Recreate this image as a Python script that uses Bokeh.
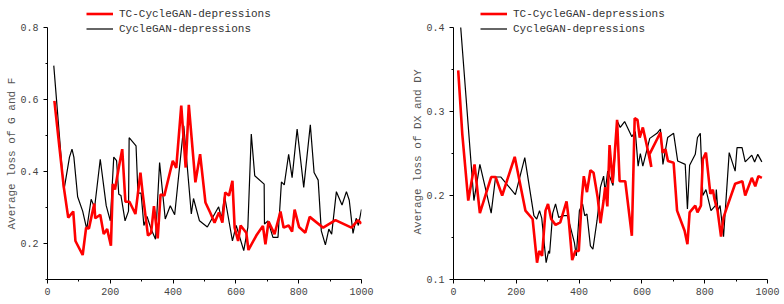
from bokeh.plotting import figure
from bokeh.layouts import row
from bokeh.models import FixedTicker, PrintfTickFormatter, Legend, LegendItem, Range1d
from bokeh.embed import file_html
from bokeh.resources import INLINE

# ---- Generator loss (G and F) ----
gf_tc_x = [22, 38, 52, 66, 82, 89, 112, 123, 132, 149, 152, 168, 179, 190, 202, 208, 215, 227, 238,
           248, 261, 280, 296, 303, 320, 330, 339, 351, 360, 372, 399, 410, 426, 440, 450, 471, 486,
           503, 518, 532, 546, 557, 566, 578, 589, 596, 607, 615, 633, 640, 665, 686, 694, 704, 723,
           742, 752, 768, 779, 787, 801, 821, 835, 878, 917, 968, 989, 1000]
gf_tc_y = [0.596, 0.467, 0.356, 0.272, 0.289, 0.207, 0.168, 0.244, 0.242, 0.311, 0.270, 0.280, 0.226,
           0.240, 0.194, 0.365, 0.350, 0.411, 0.462, 0.316, 0.316, 0.282, 0.397, 0.340, 0.222, 0.230,
           0.304, 0.214, 0.336, 0.333, 0.430, 0.410, 0.583, 0.411, 0.585, 0.370, 0.448, 0.314, 0.286,
           0.258, 0.286, 0.258, 0.342, 0.333, 0.374, 0.244, 0.207, 0.250, 0.230, 0.182, 0.222, 0.249,
           0.198, 0.261, 0.226, 0.289, 0.244, 0.250, 0.233, 0.294, 0.246, 0.230, 0.274, 0.244, 0.265,
           0.244, 0.265, 0.255]

gf_cg_x = [20, 52, 70, 78, 84, 96, 112, 125, 139, 150, 168, 187, 200, 211, 220, 227, 234, 247, 258,
           260, 282, 288, 298, 307, 317, 330, 344, 357, 375, 391, 405, 434, 458, 465, 484, 509, 545,
           554, 564, 589, 601, 625, 638, 649, 660, 690, 691, 702, 718, 734, 745, 754, 768, 779, 795,
           816, 837, 849, 862, 872, 885, 896, 905, 920, 938, 952, 961, 973, 983, 990, 1000]
gf_cg_y = [0.694, 0.346, 0.440, 0.462, 0.440, 0.330, 0.290, 0.240, 0.323, 0.300, 0.434, 0.305, 0.263,
           0.440, 0.430, 0.337, 0.333, 0.263, 0.290, 0.494, 0.471, 0.340, 0.340, 0.250, 0.275, 0.240,
           0.212, 0.425, 0.268, 0.305, 0.280, 0.527, 0.282, 0.325, 0.263, 0.246, 0.302, 0.270, 0.332,
           0.207, 0.250, 0.180, 0.245, 0.504, 0.388, 0.365, 0.254, 0.263, 0.217, 0.217, 0.371, 0.363,
           0.448, 0.383, 0.518, 0.356, 0.530, 0.397, 0.376, 0.235, 0.196, 0.240, 0.226, 0.344, 0.307,
           0.344, 0.320, 0.228, 0.270, 0.250, 0.295]

# ---- Discriminator loss (DX and DY) ----
d_tc_x = [15, 28, 47, 67, 84, 120, 134, 155, 195, 229, 252, 266, 273, 282, 293, 301, 311, 325, 340,
          360, 366, 378, 388, 399, 409, 415, 425, 436, 446, 459, 468, 478, 483, 490, 497, 507, 521,
          529, 539, 547, 568, 577, 586, 593, 603, 616, 630, 624, 659, 666, 675, 683, 701, 712, 736,
          745, 752, 770, 777, 788, 794, 804, 818, 826, 831, 841, 852, 860, 870, 897, 920, 929, 950,
          961, 971, 982]
d_tc_y = [0.349, 0.273, 0.194, 0.237, 0.179, 0.222, 0.222, 0.200, 0.246, 0.182, 0.172, 0.120, 0.134,
          0.128, 0.182, 0.190, 0.172, 0.165, 0.168, 0.193, 0.175, 0.123, 0.134, 0.134, 0.198, 0.223,
          0.204, 0.230, 0.227, 0.198, 0.167, 0.194, 0.210, 0.187, 0.260, 0.215, 0.290, 0.217, 0.217,
          0.217, 0.152, 0.292, 0.290, 0.269, 0.281, 0.259, 0.234, 0.249, 0.275, 0.251, 0.255, 0.241,
          0.239, 0.182, 0.158, 0.142, 0.180, 0.188, 0.180, 0.188, 0.243, 0.251, 0.202, 0.207, 0.196,
          0.182, 0.151, 0.174, 0.185, 0.214, 0.217, 0.200, 0.221, 0.211, 0.223, 0.221]

d_cg_x = [23, 65, 84, 120, 134, 151, 197, 227, 256, 265, 274, 281, 295, 303, 306, 316, 325, 335, 351,
          363, 374, 385, 391, 401, 411, 418, 425, 436, 444, 457, 462, 468, 478, 483, 491, 508, 521,
          531, 545, 568, 579, 588, 595, 603, 625, 648, 659, 667, 682, 701, 714, 738, 745, 752, 770,
          777, 786, 794, 804, 820, 834, 837, 842, 849, 860, 878, 897, 903, 919, 929, 950, 959, 969, 982]
d_cg_y = [0.400, 0.194, 0.237, 0.179, 0.222, 0.222, 0.201, 0.245, 0.176, 0.172, 0.182, 0.173, 0.120,
          0.134, 0.131, 0.179, 0.190, 0.174, 0.176, 0.176, 0.160, 0.144, 0.128, 0.182, 0.190, 0.176,
          0.178, 0.140, 0.136, 0.170, 0.186, 0.210, 0.223, 0.204, 0.229, 0.212, 0.289, 0.281, 0.288,
          0.270, 0.276, 0.235, 0.250, 0.235, 0.268, 0.274, 0.279, 0.237, 0.269, 0.274, 0.241, 0.237,
          0.184, 0.236, 0.249, 0.269, 0.274, 0.200, 0.207, 0.182, 0.188, 0.207, 0.182, 0.188, 0.151,
          0.251, 0.229, 0.257, 0.257, 0.240, 0.248, 0.240, 0.249, 0.240]

series_names = ["TC-CycleGAN-depressions", "CycleGAN-depressions"]
x_ticks = [0, 200, 400, 600, 800, 1000]
x_minor = [100, 300, 500, 700, 900]

FONT = "Liberation Mono"
PLOT_H = 252      # pixel height of the axis span
TOP_PAD = 27      # room above the axis span, shared with the legend


def loss_panel(title_y, caption_lift, y_lo, y_hi, y_ticks, y_minor, border_left, legend_x,
               tc_x, tc_y, cg_x, cg_y):
    # the frame reaches the top edge so the legend may sit above the axis span;
    # the y axis itself is bounded to [y_lo, y_hi]
    y_top = y_hi + TOP_PAD * (y_hi - y_lo) / PLOT_H
    p = figure(width=392, height=304, output_backend="svg", toolbar_location=None,
               x_range=Range1d(0, 1000), y_range=Range1d(y_lo, y_top),
               title=title_y, title_location="left",
               min_border_left=border_left, min_border_right=392 - border_left - 314,
               min_border_top=0, min_border_bottom=25)
    p.outline_line_color = None
    p.grid.visible = False
    p.background_fill_color = "white"

    # vertical axis caption, starting caption_lift px above the x axis
    p.title.align = "left"
    p.title.offset = caption_lift
    p.title.standoff = 0
    p.title.text_font = FONT
    p.title.text_font_size = "11px"
    p.title.text_font_style = "normal"
    p.title.text_color = "#555555"

    r_cg = p.line(cg_x, cg_y, line_color="black", line_width=1.2)
    r_tc = p.line(tc_x, tc_y, line_color="#ff0000", line_width=2.6)

    for ax in (p.xaxis[0], p.yaxis[0]):
        ax.axis_line_color = "black"
        ax.major_tick_in = 0
        ax.major_tick_out = 4
        ax.minor_tick_in = 0
        ax.minor_tick_out = 2
        ax.major_tick_line_color = "black"
        ax.minor_tick_line_color = "black"
        ax.major_label_text_font = FONT
        ax.major_label_text_font_size = "10px"
        ax.major_label_text_color = "#444444"

    p.xaxis.ticker = FixedTicker(ticks=x_ticks, minor_ticks=x_minor)
    p.xaxis.major_label_standoff = 4

    p.yaxis.bounds = (y_lo, y_hi)
    p.yaxis.ticker = FixedTicker(ticks=y_ticks, minor_ticks=y_minor)
    p.yaxis.formatter = PrintfTickFormatter(format="%.1f")
    p.yaxis.major_label_standoff = 5

    legend = Legend(items=[LegendItem(label=series_names[0], renderers=[r_tc]),
                           LegendItem(label=series_names[1], renderers=[r_cg])],
                    location=(legend_x, 243))
    legend.border_line_alpha = 0
    legend.background_fill_alpha = 0
    legend.padding = 0
    legend.margin = 0
    legend.spacing = 0
    legend.glyph_width = 27
    legend.glyph_height = 15
    legend.label_height = 15
    legend.label_standoff = 6
    legend.label_text_font = FONT
    legend.label_text_font_size = "11px"
    legend.label_text_color = "#333333"
    p.add_layout(legend)
    return p


left = loss_panel("Average loss of G and F", 50, 0.1, 0.8, [0.2, 0.4, 0.6, 0.8], [0.1, 0.3, 0.5, 0.7],
                  47, 39, gf_tc_x, gf_tc_y, gf_cg_x, gf_cg_y)
right = loss_panel("Average loss of DX and DY", 45, 0.1, 0.4, [0.1, 0.2, 0.3, 0.4], [0.15, 0.25, 0.35],
                   61, 27, d_tc_x, d_tc_y, d_cg_x, d_cg_y)

layout = row(left, right)
open("out.html", "w").write(file_html(layout, INLINE))
